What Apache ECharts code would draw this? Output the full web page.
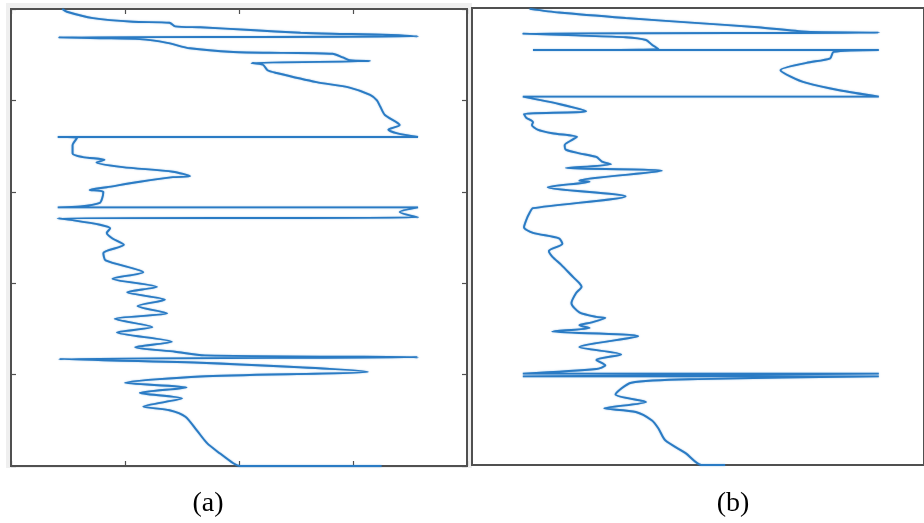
<!DOCTYPE html>
<html>
<head>
<meta charset="utf-8">
<script src="https://cdn.jsdelivr.net/npm/echarts@6/dist/echarts.min.js"></script>
<style>
  html, body { margin: 0; padding: 0; background: #fff; }
  #chart { width: 924px; height: 523px; }
</style>
</head>
<body>
<div id="chart"></div>
<script>
// Log value (x) against depth (y, increasing downward) for two wells.
// Each point is [value, depth]; points are joined in recorded order.
const depthTicks = [0, 100, 200, 300, 400, 500];
const valueTicks = [0, 100, 200, 300, 400];
const panelLabels = ['(a)', '(b)'];

const logA = [
  [45, 0], [49, 3], [72, 10], [107, 14], [139, 15], [144, 19], [166, 20], [210, 23],
  [254, 26], [282, 27], [326, 28], [357, 30],
  [42, 31], [78, 32], [113, 33], [137, 37], [157, 43], [195, 47], [239, 48], [282, 49],
  [291, 53], [297, 56], [315, 57],
  [211, 59], [221, 61], [225, 67], [233, 70], [268, 80], [297, 86], [315, 94], [321, 100],
  [324, 107], [328, 116], [341, 127], [331, 132], [339, 136], [357, 140],
  [41, 140], [58, 141], [54, 149], [54, 158], [63, 162], [82, 165], [75, 168], [98, 173],
  [142, 178], [157, 183], [142, 184], [113, 189], [84, 195], [69, 198], [81, 200],
  [80, 207], [78, 212], [61, 216], [41, 217],
  [357, 217], [341, 222], [357, 228],
  [41, 229], [54, 231], [78, 236], [87, 240], [84, 245], [89, 251], [99, 258], [81, 267],
  [83, 275], [116, 288], [89, 295], [128, 304], [102, 310], [135, 318], [111, 325],
  [137, 333], [91, 339], [124, 348], [93, 354], [141, 364], [109, 370], [144, 375],
  [170, 379], [357, 381],
  [42, 383], [166, 387], [313, 397], [166, 402], [100, 409], [154, 414], [113, 420],
  [150, 426], [116, 435], [139, 439], [153, 446], [163, 461], [172, 475], [183, 486],
  [195, 497], [201, 500], [325, 500]
];

const logB = [
  [51, 1], [77, 5], [136, 11], [194, 16], [253, 21], [296, 26], [360, 27],
  [45, 28], [92, 30], [136, 32], [154, 35], [159, 40], [165, 45],
  [54, 46], [360, 46],
  [320, 48], [317, 55], [296, 60], [273, 68], [282, 75], [296, 82], [325, 90], [360, 97],
  [45, 97], [77, 105], [101, 113], [46, 116], [48, 120], [54, 125], [53, 128], [58, 133],
  [71, 137], [93, 141], [89, 144], [82, 150], [83, 155], [95, 159], [110, 163], [115, 168],
  [123, 171], [83, 175], [168, 178], [95, 189], [104, 190], [67, 196], [136, 206],
  [54, 219], [51, 224], [48, 232], [46, 240], [54, 246], [77, 252], [80, 258], [68, 266],
  [71, 272], [79, 281], [90, 295], [95, 301], [97, 305], [92, 312], [88, 323], [95, 333],
  [110, 338], [118, 339], [106, 344], [95, 347], [104, 350], [71, 354], [147, 359],
  [95, 371], [132, 379], [110, 385], [118, 391], [110, 395],
  [45, 400], [360, 400], [45, 403], [360, 403],
  [200, 406], [141, 410], [127, 423], [154, 431], [117, 438], [145, 442], [159, 451],
  [165, 460], [171, 473], [189, 487], [203, 500], [224, 500]
];

const LINE_COLOR = '#2a7bc4';
const FRAME_COLOR = '#505050';
const PLOT_W = 456;
const PLOT_H = 457;

const chart = echarts.init(document.getElementById('chart'), null, { renderer: 'canvas' });

const tickStyle = { length: 5, inside: true, lineStyle: { color: FRAME_COLOR, width: 1.2 } };

function valueAxis(gridIndex, position, withTicks) {
  return {
    type: 'value',
    gridIndex: gridIndex,
    position: position,
    min: valueTicks[0],
    max: valueTicks[valueTicks.length - 1],
    interval: valueTicks[1] - valueTicks[0],
    axisLine: { show: false, onZero: false },
    axisLabel: { show: false },
    splitLine: { show: false },
    axisTick: Object.assign({ show: withTicks }, tickStyle)
  };
}

function depthAxis(gridIndex, position, withTicks) {
  return {
    type: 'value',
    gridIndex: gridIndex,
    position: position,
    inverse: true,
    min: depthTicks[0],
    max: depthTicks[depthTicks.length - 1],
    interval: depthTicks[1] - depthTicks[0],
    axisLine: { show: false, onZero: false },
    axisLabel: { show: false },
    splitLine: { show: false },
    axisTick: Object.assign({ show: withTicks }, tickStyle)
  };
}

function logSeries(data, axisIndex) {
  return {
    type: 'line',
    xAxisIndex: axisIndex,
    yAxisIndex: axisIndex,
    data: data,
    showSymbol: false,
    symbol: 'none',
    clip: false,
    smooth: 0.25,
    lineStyle: { color: LINE_COLOR, width: 1.9, shadowBlur: 1.5, shadowColor: 'rgba(42,123,196,0.6)' },
    animation: false,
    z: 3
  };
}

const option = {
  animation: false,
  backgroundColor: '#ffffff',
  grid: [
    { left: 11, top: 9, width: PLOT_W, height: PLOT_H, show: true, backgroundColor: '#ffffff',
      borderColor: FRAME_COLOR, borderWidth: 2 },
    { left: 472, top: 8, width: PLOT_W, height: PLOT_H, show: true, backgroundColor: '#ffffff',
      borderColor: FRAME_COLOR, borderWidth: 2 }
  ],
  xAxis: [
    valueAxis(0, 'bottom', true),
    valueAxis(0, 'top', true),
    valueAxis(1, 'bottom', false)
  ],
  yAxis: [
    depthAxis(0, 'left', true),
    depthAxis(0, 'right', true),
    depthAxis(1, 'left', false)
  ],
  series: [
    logSeries(logA, 0),
    logSeries(logB, 2)
  ],
  graphic: [
    {
      type: 'rect', z: -10, silent: true,
      shape: { x: 6, y: 3, width: 466, height: 465 },
      style: { fill: '#efefef' }
    },
    {
      type: 'text', x: 208, y: 504, silent: true,
      style: {
        text: panelLabels[0], fill: '#000',
        font: '28px "Liberation Serif", "Times New Roman", serif',
        textAlign: 'center', textVerticalAlign: 'middle', align: 'center', verticalAlign: 'middle'
      }
    },
    {
      type: 'text', x: 733, y: 504, silent: true,
      style: {
        text: panelLabels[1], fill: '#000',
        font: '28px "Liberation Serif", "Times New Roman", serif',
        textAlign: 'center', textVerticalAlign: 'middle', align: 'center', verticalAlign: 'middle'
      }
    }
  ]
};

chart.setOption(option);
</script>
</body>
</html>
